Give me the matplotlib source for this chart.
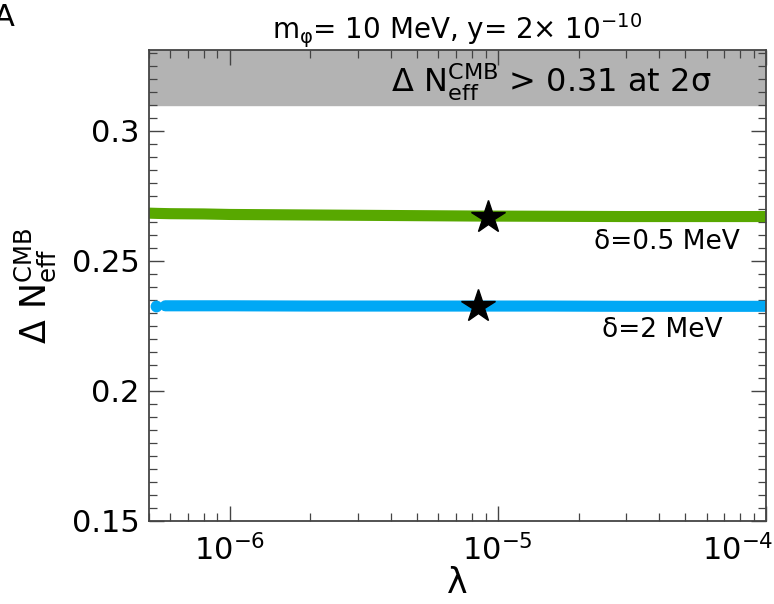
import numpy as np
import matplotlib.pyplot as plt
from matplotlib.ticker import FixedLocator, LogLocator, MultipleLocator, NullFormatter

# scan points
lam_green = [5.0e-7, 5.4e-7, 6e-7, 8e-7, 1e-6, 2e-6, 4e-6, 8e-6, 1.5e-5, 3e-5, 6e-5, 1e-4]
dn_green = [0.2683, 0.2682, 0.2681, 0.2680, 0.2678, 0.2676, 0.2674, 0.2672, 0.2671, 0.2670, 0.2670, 0.2670]

lam_blue = [5.75e-7, 6.0e-7, 8e-7, 1e-6, 2e-6, 4e-6, 8e-6, 1.5e-5, 3e-5, 6e-5, 1e-4]
dn_blue = [0.2327, 0.2327, 0.2327, 0.2327, 0.2326, 0.2326, 0.2326, 0.2326, 0.2325, 0.2325, 0.2325]
lam_blue_first = [5.3e-7]
dn_blue_first = [0.2327]

# benchmark stars
star_lam = [9.2e-6, 8.4e-6]
star_dn = [0.2670, 0.2325]

xticks = [1e-6, 1e-5, 1e-4]
xticklabels = [r'$10^{-6}$', r'$10^{-5}$', r'$10^{-4}$']
yticks = [0.15, 0.2, 0.25, 0.3]
yticklabels = ['0.15', '0.2', '0.25', '0.3']

bound = 0.31
green = '#58a800'
blue = '#00a8f5'

fig = plt.figure(figsize=(7.74, 6.04), dpi=100)
ax = fig.add_axes([149/774, 1 - 521/604, (766 - 149)/774, (521 - 50)/604])

ax.axhspan(bound, 0.331, color='#b3b3b3', zorder=0)

ax.plot(lam_green, dn_green, color=green, lw=8, solid_capstyle='round', zorder=2)
ax.plot(lam_blue, dn_blue, color=blue, lw=8, solid_capstyle='round', zorder=2)
ax.plot(lam_blue_first, dn_blue_first, 'o', color=blue, ms=8.5, mec='none', zorder=2)
ax.plot(star_lam, star_dn, '*', color='black', ms=25, zorder=3)

ax.set_xscale('log')
ax.set_xlim(5e-7, 1e-4)
ax.set_ylim(0.15, 0.331)

ax.yaxis.set_minor_locator(MultipleLocator(0.005))
ax.set_yticks(yticks)
ax.set_yticklabels(yticklabels)
ax.xaxis.set_major_locator(FixedLocator(xticks))
# last label is drawn by hand so it stays inside the picture
ax.set_xticklabels(xticklabels[:-1] + [''])
ax.xaxis.set_minor_locator(LogLocator(base=10, subs=np.arange(2, 10), numticks=20))
ax.xaxis.set_minor_formatter(NullFormatter())

ax.tick_params(which='both', direction='in', top=True, right=True, colors='#444444',
               labelcolor='black', labelsize=22)
ax.tick_params(which='major', length=11, width=1.0)
ax.tick_params(which='minor', length=6, width=0.9)
ax.tick_params(axis='x', pad=9)
ax.tick_params(axis='y', pad=7)
for sp in ax.spines.values():
    sp.set_color('#444444')
    sp.set_linewidth(1.3)

ax.annotate(xticklabels[-1], xy=(xticks[-1], 0), xycoords=ax.get_xaxis_transform(),
            xytext=(5, -9.5), textcoords='offset points', ha='right', va='top', fontsize=22)

ax.set_xlabel('λ', fontsize=25, labelpad=0)
ax.set_ylabel(r'$\Delta\ \mathrm{N}_{\mathrm{eff}}^{\mathrm{CMB}}$', fontsize=25, labelpad=10)
ax.set_title(r'm$_{\mathrm{φ}}$= 10 MeV, y= 2$\times$ 10$^{\mathrm{-10}}$', fontsize=20, pad=4)

ax.text(0.912, 0.3185, r'$\Delta\ \mathrm{N}_{\mathrm{eff}}^{\mathrm{CMB}}$ > 0.31 at 2σ',
        fontsize=23, ha='right', va='center', transform=ax.get_yaxis_transform())
ax.text(0.958, 0.2573, 'δ=0.5 MeV', fontsize=19, ha='right', va='center',
        transform=ax.get_yaxis_transform())
ax.text(0.929, 0.2235, 'δ=2 MeV', fontsize=19, ha='right', va='center',
        transform=ax.get_yaxis_transform())

# panel letter cut at the corner
fig.text(-0.008, 0.995, 'A', fontsize=22, ha='left', va='top')

fig.savefig('out.png', dpi=100)
